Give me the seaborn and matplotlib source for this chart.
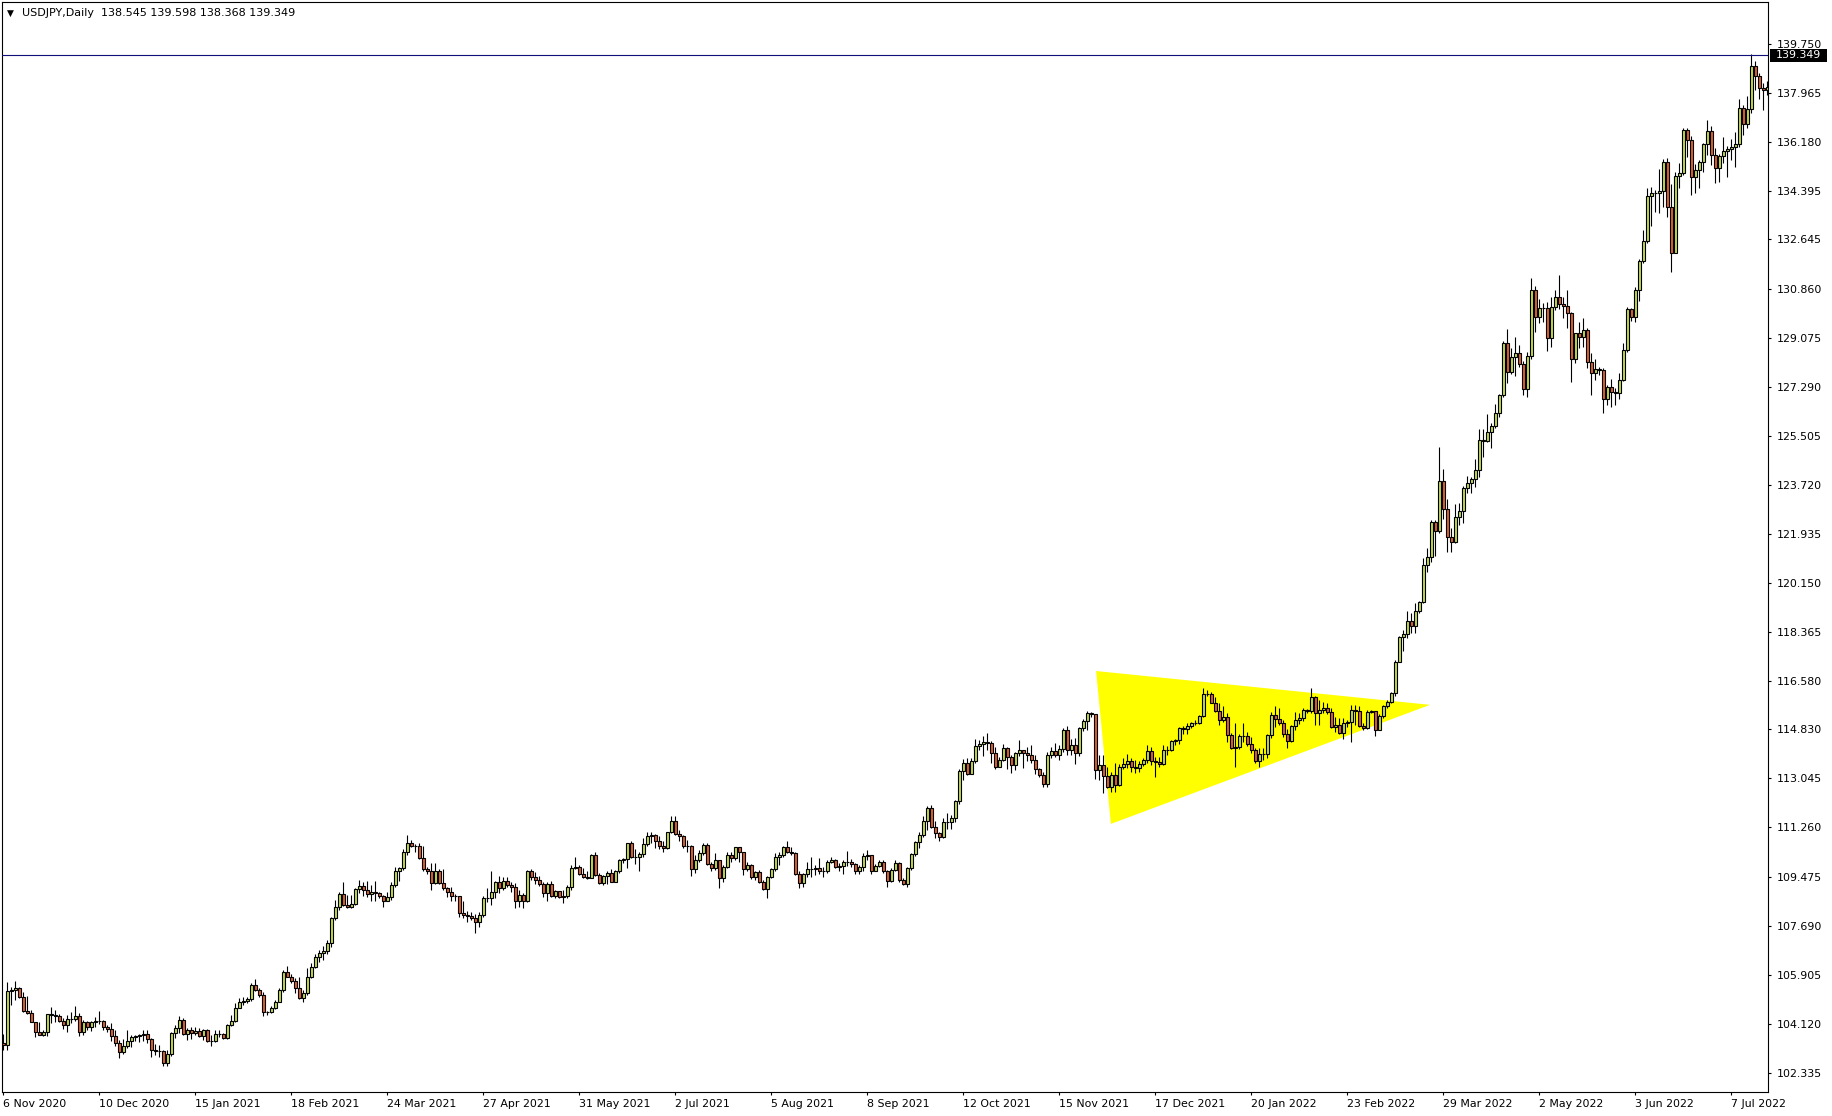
import matplotlib
matplotlib.use("Agg")
import matplotlib.pyplot as plt
import matplotlib.transforms as mtransforms
from matplotlib.patches import Rectangle
import numpy as np
import seaborn as sns

# -------------------------
# USDJPY daily bars, 6 Nov 2020 .. mid Jul 2022
# -------------------------
opens = [
    103.44, 103.36, 105.33, 105.36, 105.43, 105.11, 104.57, 104.50, 104.18, 103.82,
    103.71, 103.84, 104.47, 104.43, 104.42, 104.24, 104.07, 104.29, 104.30, 104.41,
    103.82, 104.19, 104.02, 104.17, 104.24, 104.22, 104.00, 103.92, 103.66, 103.44,
    103.08, 103.31, 103.51, 103.63, 103.66, 103.70, 103.76, 103.56, 103.15, 103.12,
    103.13, 102.69, 103.02, 103.78, 103.97, 104.26, 103.74, 103.88, 103.78, 103.86,
    103.66, 103.90, 103.51, 103.49, 103.76, 103.74, 103.60, 104.07, 104.22, 104.69,
    104.92, 104.96, 105.02, 105.54, 105.36, 105.17, 104.54, 104.55, 104.69, 104.91,
    105.36, 106.02, 105.84, 105.66, 105.42, 105.05, 105.23, 105.84, 106.18, 106.54,
    106.71, 106.76, 107.05, 107.96, 108.36, 108.84, 108.44, 108.36, 108.48, 109.01,
    109.14, 108.97, 108.84, 108.93, 108.87, 108.78, 108.57, 108.72, 109.17, 109.68,
    109.80, 110.35, 110.69, 110.57, 110.60, 110.14, 109.74, 109.69, 109.23, 109.66,
    109.23, 109.05, 108.91, 108.75, 108.77, 108.14, 108.09, 108.03, 107.95, 107.84,
    108.08, 108.69, 108.70, 108.93, 109.29, 109.05, 109.32, 109.17, 109.09, 108.57,
    108.81, 108.57, 109.66, 109.45, 109.35, 109.20, 108.87, 109.21, 108.75, 108.95,
    108.72, 108.75, 109.11, 109.78, 109.84, 109.56, 109.45, 109.42, 110.26, 109.54,
    109.23, 109.50, 109.60, 109.29, 109.68, 110.08, 110.12, 110.69, 110.20, 110.19,
    110.30, 110.66, 110.95, 111.00, 110.75, 110.59, 110.50, 111.09, 111.50, 111.01,
    110.95, 110.59, 110.58, 109.74, 110.08, 110.32, 110.63, 109.92, 109.80, 110.08,
    109.41, 109.81, 110.26, 110.14, 110.54, 110.35, 109.74, 109.89, 109.45, 109.63,
    109.29, 109.01, 109.45, 109.74, 110.20, 110.26, 110.54, 110.38, 110.32, 109.56,
    109.23, 109.56, 109.74, 109.75, 109.78, 109.66, 109.69, 110.00, 110.08, 109.84,
    109.87, 110.00, 110.01, 109.92, 109.69, 109.81, 110.24, 110.25, 109.69, 109.87,
    110.00, 109.66, 109.33, 109.72, 109.98, 109.35, 109.20, 109.78, 110.30, 110.73,
    110.99, 111.50, 111.98, 111.26, 111.05, 110.93, 111.45, 111.47, 111.62, 112.22,
    113.32, 113.62, 113.21, 113.68, 114.23, 114.30, 114.36, 114.32, 113.96, 113.47,
    113.72, 114.14, 113.81, 113.53, 113.96, 114.08, 113.96, 113.91, 113.72, 113.38,
    113.17, 112.83, 113.90, 114.04, 113.89, 114.10, 114.81, 114.08, 114.26, 113.98,
    114.87, 115.13, 115.41, 115.38, 113.35, 113.53, 113.15, 112.75, 113.17, 112.81,
    113.47, 113.57, 113.68, 113.45, 113.41, 113.57, 113.72, 114.04, 113.66, 113.63,
    113.57, 114.08, 114.09, 114.41, 114.44, 114.87, 114.83, 114.95, 115.05, 115.07,
    115.32, 116.12, 116.13, 115.80, 115.51, 115.17, 115.27, 114.63, 114.14, 114.18,
    114.60, 114.59, 114.29, 114.06, 113.66, 113.92, 113.95, 114.63, 115.35, 115.21,
    115.07, 114.65, 114.42, 114.95, 115.17, 115.24, 115.53, 115.51, 116.00, 115.41,
    115.53, 115.60, 115.45, 114.90, 114.99, 114.71, 115.07, 115.10, 115.53, 115.51,
    114.96, 114.87, 115.47, 115.48, 114.81, 115.32, 115.66, 115.84, 116.14, 117.29,
    118.20, 118.30, 118.77, 118.57, 119.13, 119.47, 120.81, 121.11, 122.38, 122.06,
    123.87, 122.83, 121.81, 121.65, 122.54, 122.78, 123.59, 123.78, 123.92, 124.26,
    125.35, 125.33, 125.63, 125.86, 126.32, 126.99, 128.89, 127.84, 128.36, 128.53,
    128.10, 127.19, 128.41, 130.81, 129.84, 130.14, 130.15, 129.05, 130.18, 130.54,
    130.30, 130.24, 129.96, 128.29, 129.23, 129.11, 129.35, 128.20, 127.78, 127.92,
    127.90, 126.83, 127.27, 127.08, 127.07, 127.53, 128.62, 130.10, 129.81, 130.81,
    131.85, 132.59, 134.22, 134.32, 134.35, 134.40, 135.45, 133.81, 132.17, 134.95,
    135.05, 136.62, 136.26, 134.93, 135.17, 135.45, 136.10, 136.59, 135.71, 135.23,
    135.68, 135.86, 135.93, 136.02, 136.10, 137.41, 136.83, 137.39, 138.95, 138.58,
    138.15, 138.08,
]
closes = [
    103.36, 105.33, 105.36, 105.43, 105.11, 104.57, 104.50, 104.18, 103.82, 103.71,
    103.84, 104.47, 104.43, 104.42, 104.24, 104.07, 104.29, 104.30, 104.41, 103.82,
    104.19, 104.02, 104.17, 104.24, 104.22, 104.00, 103.92, 103.66, 103.44, 103.08,
    103.31, 103.51, 103.63, 103.66, 103.70, 103.76, 103.56, 103.15, 103.12, 103.13,
    102.69, 103.02, 103.78, 103.97, 104.26, 103.74, 103.88, 103.78, 103.86, 103.66,
    103.90, 103.51, 103.49, 103.76, 103.74, 103.60, 104.07, 104.22, 104.69, 104.92,
    104.96, 105.02, 105.54, 105.36, 105.17, 104.54, 104.55, 104.69, 104.91, 105.36,
    106.02, 105.84, 105.66, 105.42, 105.05, 105.23, 105.84, 106.18, 106.54, 106.71,
    106.76, 107.05, 107.96, 108.36, 108.84, 108.44, 108.36, 108.48, 109.01, 109.14,
    108.97, 108.84, 108.93, 108.87, 108.78, 108.57, 108.72, 109.17, 109.68, 109.80,
    110.35, 110.69, 110.57, 110.60, 110.14, 109.74, 109.69, 109.23, 109.66, 109.23,
    109.05, 108.91, 108.75, 108.77, 108.14, 108.09, 108.03, 107.95, 107.84, 108.08,
    108.69, 108.70, 108.93, 109.29, 109.05, 109.32, 109.17, 109.09, 108.57, 108.81,
    108.57, 109.66, 109.45, 109.35, 109.20, 108.87, 109.21, 108.75, 108.95, 108.72,
    108.75, 109.11, 109.78, 109.84, 109.56, 109.45, 109.42, 110.26, 109.54, 109.23,
    109.50, 109.60, 109.29, 109.68, 110.08, 110.12, 110.69, 110.20, 110.19, 110.30,
    110.66, 110.95, 111.00, 110.75, 110.59, 110.50, 111.09, 111.50, 111.01, 110.95,
    110.59, 110.58, 109.74, 110.08, 110.32, 110.63, 109.92, 109.80, 110.08, 109.41,
    109.81, 110.26, 110.14, 110.54, 110.35, 109.74, 109.89, 109.45, 109.63, 109.29,
    109.01, 109.45, 109.74, 110.20, 110.26, 110.54, 110.38, 110.32, 109.56, 109.23,
    109.56, 109.74, 109.75, 109.78, 109.66, 109.69, 110.00, 110.08, 109.84, 109.87,
    110.00, 110.01, 109.92, 109.69, 109.81, 110.24, 110.25, 109.69, 109.87, 110.00,
    109.66, 109.33, 109.72, 109.98, 109.35, 109.20, 109.78, 110.30, 110.73, 110.99,
    111.50, 111.98, 111.26, 111.05, 110.93, 111.45, 111.47, 111.62, 112.22, 113.32,
    113.62, 113.21, 113.68, 114.23, 114.30, 114.36, 114.32, 113.96, 113.47, 113.72,
    114.14, 113.81, 113.53, 113.96, 114.08, 113.96, 113.91, 113.72, 113.38, 113.17,
    112.83, 113.90, 114.04, 113.89, 114.10, 114.81, 114.08, 114.26, 113.98, 114.87,
    115.13, 115.41, 115.38, 113.35, 113.53, 113.15, 112.75, 113.17, 112.81, 113.47,
    113.57, 113.68, 113.45, 113.41, 113.57, 113.72, 114.04, 113.66, 113.63, 113.57,
    114.08, 114.09, 114.41, 114.44, 114.87, 114.83, 114.95, 115.05, 115.07, 115.32,
    116.12, 116.13, 115.80, 115.51, 115.17, 115.27, 114.63, 114.14, 114.18, 114.60,
    114.59, 114.29, 114.06, 113.66, 113.92, 113.95, 114.63, 115.35, 115.21, 115.07,
    114.65, 114.42, 114.95, 115.17, 115.24, 115.53, 115.51, 116.00, 115.41, 115.53,
    115.60, 115.45, 114.90, 114.99, 114.71, 115.07, 115.10, 115.53, 115.51, 114.96,
    114.87, 115.47, 115.48, 114.81, 115.32, 115.66, 115.84, 116.14, 117.29, 118.20,
    118.30, 118.77, 118.57, 119.13, 119.47, 120.81, 121.11, 122.38, 122.06, 123.87,
    122.83, 121.81, 121.65, 122.54, 122.78, 123.59, 123.78, 123.92, 124.26, 125.35,
    125.33, 125.63, 125.86, 126.32, 126.99, 128.89, 127.84, 128.36, 128.53, 128.10,
    127.19, 128.41, 130.81, 129.84, 130.14, 130.15, 129.05, 130.18, 130.54, 130.30,
    130.24, 129.96, 128.29, 129.23, 129.11, 129.35, 128.20, 127.78, 127.92, 127.90,
    126.83, 127.27, 127.08, 127.07, 127.53, 128.62, 130.10, 129.81, 130.81, 131.85,
    132.59, 134.22, 134.32, 134.35, 134.40, 135.45, 133.81, 132.17, 134.95, 135.05,
    136.62, 136.26, 134.93, 135.17, 135.45, 136.10, 136.59, 135.71, 135.23, 135.68,
    135.86, 135.93, 136.02, 136.10, 137.41, 136.83, 137.39, 138.95, 138.58, 138.15,
    138.08, 138.20,
]
highs = [
    103.76, 105.63, 105.45, 105.66, 105.45, 105.29, 105.14, 104.63, 104.20, 104.20,
    103.90, 104.48, 104.72, 104.63, 104.47, 104.33, 104.45, 104.54, 104.75, 104.53,
    104.26, 104.23, 104.23, 104.35, 104.59, 104.26, 104.08, 104.14, 103.90, 103.54,
    103.56, 103.90, 103.72, 103.71, 103.76, 103.90, 103.90, 103.59, 103.39, 103.36,
    103.17, 103.17, 103.82, 104.07, 104.41, 104.33, 103.96, 104.02, 104.00, 103.95,
    103.93, 103.94, 103.72, 103.90, 103.90, 103.78, 104.12, 104.45, 104.87, 105.05,
    105.11, 105.11, 105.60, 105.74, 105.42, 105.29, 104.60, 104.75, 104.99, 105.42,
    106.08, 106.23, 105.94, 105.80, 105.84, 105.36, 106.14, 106.33, 106.66, 106.81,
    106.95, 107.15, 108.02, 108.63, 108.93, 109.26, 108.81, 108.81, 109.05, 109.35,
    109.29, 109.32, 109.17, 109.32, 108.93, 108.81, 108.93, 109.26, 109.84, 109.84,
    110.47, 110.97, 110.81, 110.66, 110.69, 110.57, 109.84, 109.96, 109.96, 109.74,
    109.74, 109.11, 109.08, 108.83, 108.77, 108.57, 108.24, 108.20, 108.12, 108.20,
    108.77, 109.05, 109.68, 109.32, 109.48, 109.45, 109.45, 109.29, 109.23, 109.00,
    108.87, 109.72, 109.74, 109.63, 109.48, 109.29, 109.29, 109.32, 109.00, 108.95,
    109.00, 109.17, 109.90, 110.18, 109.90, 109.78, 109.66, 110.29, 110.35, 109.60,
    109.54, 109.66, 109.74, 109.72, 110.10, 110.14, 110.71, 110.78, 110.47, 110.38,
    110.87, 111.09, 111.09, 111.02, 110.95, 110.75, 111.11, 111.66, 111.66, 111.17,
    110.99, 110.81, 110.63, 110.26, 110.44, 110.69, 110.71, 110.02, 110.32, 110.08,
    109.90, 110.38, 110.38, 110.56, 110.56, 110.38, 110.02, 109.94, 109.69, 109.72,
    109.35, 109.48, 109.78, 110.32, 110.35, 110.59, 110.78, 110.56, 110.38, 109.66,
    109.60, 110.02, 110.20, 109.90, 110.14, 109.84, 110.08, 110.20, 110.10, 109.96,
    110.08, 110.41, 110.10, 109.96, 109.90, 110.32, 110.44, 110.26, 109.94, 110.08,
    110.08, 109.72, 109.78, 110.08, 110.02, 109.41, 109.84, 110.32, 110.78, 111.08,
    111.66, 112.04, 112.08, 111.50, 111.11, 111.60, 111.78, 111.72, 112.26, 113.38,
    113.74, 113.78, 113.78, 114.47, 114.44, 114.57, 114.71, 114.42, 114.18, 113.84,
    114.30, 114.20, 113.90, 114.02, 114.44, 114.08, 114.20, 114.26, 113.90, 113.41,
    113.29, 114.02, 114.20, 114.32, 114.26, 114.87, 114.95, 114.47, 114.50, 114.93,
    115.20, 115.50, 115.45, 115.35, 113.90, 113.90, 113.47, 113.29, 113.60, 113.57,
    113.78, 113.92, 113.78, 113.72, 113.66, 113.78, 114.26, 114.20, 113.84, 113.84,
    114.26, 114.23, 114.44, 114.48, 114.93, 114.95, 115.05, 115.11, 115.17, 115.35,
    116.32, 116.26, 116.20, 116.02, 115.78, 115.66, 115.44, 114.69, 115.05, 114.66,
    115.07, 114.75, 114.54, 114.14, 114.14, 114.14, 114.66, 115.47, 115.66, 115.60,
    115.17, 114.83, 114.99, 115.47, 115.44, 115.60, 115.58, 116.32, 116.04, 115.90,
    115.84, 115.78, 115.60, 115.29, 115.23, 115.23, 115.17, 115.72, 115.72, 115.66,
    115.05, 115.53, 115.53, 115.51, 115.39, 115.72, 115.90, 116.20, 117.35, 118.22,
    118.44, 119.15, 119.05, 119.41, 119.51, 121.05, 121.41, 122.44, 122.44, 125.11,
    124.30, 123.21, 122.14, 123.03, 123.05, 123.68, 124.04, 124.02, 124.65, 125.75,
    125.74, 126.30, 125.98, 126.66, 127.02, 128.96, 129.38, 128.68, 129.11, 128.81,
    128.24, 128.56, 131.24, 130.96, 130.47, 130.32, 130.36, 130.54, 130.81, 131.35,
    130.54, 130.81, 130.02, 129.26, 129.65, 129.77, 129.41, 128.50, 128.28, 128.02,
    127.96, 127.35, 127.56, 127.23, 127.80, 128.87, 130.20, 130.14, 130.93, 131.95,
    132.99, 134.50, 134.56, 134.46, 135.19, 135.56, 135.62, 134.66, 135.11, 135.41,
    136.68, 136.68, 136.41, 135.39, 135.53, 136.14, 136.99, 136.77, 135.96, 135.77,
    136.38, 136.04, 136.28, 136.56, 137.74, 137.53, 137.86, 139.39, 139.14, 138.68,
    138.34, 138.40,
]
lows = [
    103.17, 103.17, 104.81, 104.99, 105.05, 104.54, 104.47, 104.17, 103.63, 103.70,
    103.68, 103.66, 104.14, 104.20, 104.20, 103.92, 103.82, 104.14, 104.23, 103.66,
    103.71, 103.90, 103.86, 104.02, 104.12, 103.90, 103.84, 103.48, 103.30, 102.86,
    103.03, 103.23, 103.27, 103.49, 103.46, 103.48, 103.42, 102.93, 102.98, 102.93,
    102.57, 102.57, 102.96, 103.60, 103.80, 103.71, 103.54, 103.56, 103.72, 103.63,
    103.54, 103.46, 103.30, 103.45, 103.63, 103.56, 103.57, 104.03, 104.17, 104.69,
    104.81, 104.87, 104.96, 105.31, 105.11, 104.41, 104.45, 104.51, 104.65, 104.90,
    105.29, 105.84, 105.60, 105.23, 105.02, 104.90, 105.17, 105.80, 106.14, 106.35,
    106.45, 106.65, 106.90, 107.90, 108.26, 108.41, 108.32, 108.32, 108.44, 108.89,
    108.75, 108.72, 108.59, 108.57, 108.69, 108.38, 108.57, 108.63, 109.11, 109.32,
    109.72, 110.26, 110.54, 110.35, 110.10, 109.66, 109.57, 108.97, 109.20, 109.21,
    108.99, 108.72, 108.57, 108.57, 107.99, 107.95, 107.84, 107.90, 107.44, 107.63,
    108.02, 108.54, 108.44, 108.69, 108.89, 108.99, 109.11, 108.93, 108.32, 108.38,
    108.32, 108.54, 109.35, 109.20, 109.14, 108.72, 108.57, 108.72, 108.69, 108.69,
    108.53, 108.69, 108.99, 109.74, 109.54, 109.41, 109.38, 109.50, 109.50, 109.20,
    109.17, 109.20, 109.27, 109.27, 109.60, 109.96, 109.78, 110.14, 109.94, 109.69,
    110.18, 110.57, 110.69, 110.50, 110.47, 110.38, 110.47, 111.05, 110.99, 110.77,
    110.50, 110.35, 109.50, 109.62, 110.02, 110.26, 109.90, 109.66, 109.72, 109.05,
    109.29, 109.78, 110.02, 110.08, 110.02, 109.53, 109.66, 109.39, 109.35, 109.23,
    108.99, 108.69, 109.41, 109.69, 109.90, 110.20, 110.32, 110.26, 109.53, 109.07,
    109.09, 109.47, 109.45, 109.53, 109.57, 109.47, 109.60, 109.96, 109.78, 109.66,
    109.57, 109.87, 109.81, 109.57, 109.57, 109.69, 110.08, 109.57, 109.66, 109.81,
    109.60, 109.09, 109.29, 109.66, 109.29, 109.17, 109.09, 109.72, 110.23, 110.50,
    110.93, 111.17, 111.23, 110.87, 110.78, 110.87, 111.20, 111.20, 111.47, 112.12,
    112.97, 113.17, 113.20, 113.60, 114.06, 113.86, 114.08, 113.62, 113.39, 113.47,
    113.66, 113.38, 113.23, 113.35, 113.86, 113.44, 113.68, 113.60, 113.21, 113.09,
    112.72, 112.75, 113.78, 113.84, 113.72, 114.02, 113.90, 113.90, 113.56, 113.86,
    114.78, 114.81, 115.29, 113.01, 112.99, 112.50, 112.69, 112.56, 112.54, 112.77,
    113.38, 113.41, 113.29, 113.23, 113.29, 113.50, 113.62, 113.53, 113.11, 113.47,
    113.53, 113.90, 114.04, 114.26, 114.30, 114.66, 114.66, 114.89, 114.99, 115.03,
    115.27, 116.04, 115.78, 115.47, 114.99, 115.11, 114.38, 114.10, 113.45, 114.10,
    114.38, 114.23, 113.96, 113.62, 113.45, 113.72, 113.78, 114.50, 114.93, 114.99,
    114.54, 114.14, 114.38, 114.81, 115.02, 115.15, 115.44, 115.41, 114.99, 114.99,
    115.41, 115.39, 114.87, 114.75, 114.66, 114.47, 114.93, 114.38, 114.99, 114.93,
    114.81, 114.83, 115.41, 114.59, 114.87, 115.23, 115.60, 115.78, 116.04, 117.29,
    117.66, 118.14, 118.35, 118.35, 119.05, 119.41, 120.56, 120.93, 121.13, 121.98,
    122.47, 121.29, 121.26, 121.59, 122.26, 122.35, 123.44, 123.44, 123.63, 123.99,
    124.75, 125.29, 125.05, 125.78, 126.20, 126.93, 127.44, 127.75, 127.68, 128.02,
    126.99, 126.90, 128.29, 129.29, 129.59, 129.65, 128.60, 128.72, 130.08, 130.10,
    129.77, 129.41, 127.47, 128.16, 128.68, 128.72, 127.96, 126.99, 127.53, 127.71,
    126.35, 126.62, 126.56, 126.62, 126.83, 127.51, 128.56, 129.69, 129.65, 130.42,
    131.80, 132.53, 133.13, 133.65, 133.59, 133.84, 133.47, 131.47, 132.14, 134.50,
    134.99, 135.65, 134.26, 134.32, 134.50, 135.11, 135.71, 135.35, 134.71, 134.74,
    135.44, 134.93, 135.53, 135.29, 136.02, 136.44, 136.68, 137.25, 138.08, 137.77,
    137.37, 137.90,
]

date_labels = ["6 Nov 2020", "10 Dec 2020", "15 Jan 2021", "18 Feb 2021", "24 Mar 2021",
               "27 Apr 2021", "31 May 2021", "2 Jul 2021", "5 Aug 2021", "8 Sep 2021",
               "12 Oct 2021", "15 Nov 2021", "17 Dec 2021", "20 Jan 2022", "23 Feb 2022",
               "29 Mar 2022", "2 May 2022", "3 Jun 2022", "7 Jul 2022"]
date_bars = [0, 24, 48, 72, 96, 120, 144, 168, 192, 216, 240, 264, 288, 312, 336, 360, 384, 408, 432]

price_ticks = [139.750, 137.965, 136.180, 134.395, 132.645, 130.860, 129.075, 127.290,
               125.505, 123.720, 121.935, 120.150, 118.365, 116.580, 114.830, 113.045,
               111.260, 109.475, 107.690, 105.905, 104.120, 102.335]
price_labels = ["139.750", "137.965", "136.180", "134.395", "132.645", "130.860", "129.075",
                "127.290", "125.505", "123.720", "121.935", "120.150", "118.365", "116.580",
                "114.830", "113.045", "111.260", "109.475", "107.690", "105.905", "104.120",
                "102.335"]

# yellow symmetrical triangle drawn on the chart
triangle_bars = [273.2, 276.9, 356.7]
triangle_prices = [116.95, 111.39, 115.72]

bid = 139.349
header = "USDJPY,Daily  138.545 139.598 138.368 139.349"

bull_color = "#c4da4c"
bear_color = "#e0602c"

sns.set_theme(style="white")
plt.rcParams["font.family"] = ["DejaVu Sans"]

W, H = 1832, 1116
fig = plt.figure(figsize=(W / 100, H / 100), dpi=100)
ax = fig.add_axes([2 / W, 24 / H, 1766 / W, 1090 / H])

o = np.array(opens)
c = np.array(closes)
hi = np.array(highs)
lo = np.array(lows)
x = np.arange(len(c))
up = c >= o

ax.fill(triangle_bars, triangle_prices, color="#ffff00", lw=0, zorder=1)
ax.vlines(x, lo, hi, color="black", lw=0.8, zorder=2)
ax.bar(x[up], (c - o)[up], bottom=o[up], width=0.7, color=bull_color,
       edgecolor="black", linewidth=0.8, zorder=3)
ax.bar(x[~up], (c - o)[~up], bottom=o[~up], width=0.7, color=bear_color,
       edgecolor="black", linewidth=0.8, zorder=3)

ax.axhline(bid, color="#101078", lw=0.8, zorder=4)

ax.set_xlim(-0.325, 441.175)
ax.set_ylim(101.64, 141.28)

ax.set_xticks(date_bars, date_labels)
ax.set_yticks(price_ticks, price_labels)
for lbl in ax.get_xticklabels():
    lbl.set_horizontalalignment("left")
ax.tick_params(axis="x", bottom=True, top=False, direction="out", length=2.5,
               width=0.8, color="black", labelsize=7.9, labelcolor="black", pad=2.5)
ax.tick_params(axis="y", left=False, right=True, labelleft=False, labelright=True,
               direction="out", length=2.5, width=0.8, color="black",
               labelsize=7.9, labelcolor="black", pad=3.5)
for s in ax.spines.values():
    s.set_color("black")
    s.set_linewidth(0.8)
ax.grid(False)

# current price tag on the price scale
blend = mtransforms.blended_transform_factory(ax.transAxes, ax.transData)
ax.add_patch(Rectangle((1 + 2 / 1766, bid - 0.236), 57 / 1766, 0.473, transform=blend,
                       facecolor="black", edgecolor="none", clip_on=False, zorder=5))
ax.text(1 + 8 / 1766, bid, "139.349", transform=blend, ha="left", va="center",
        color="white", fontsize=7.9, zorder=6, clip_on=False)

fig.text(7 / W, 1 - 13 / H, "\u25bc", fontsize=6.5, ha="left", va="center", color="black")
fig.text(22 / W, 1 - 13 / H, header, fontsize=8.0, ha="left", va="center", color="black")

fig.savefig("out.png", dpi=100, facecolor="white")
plt.close(fig)
